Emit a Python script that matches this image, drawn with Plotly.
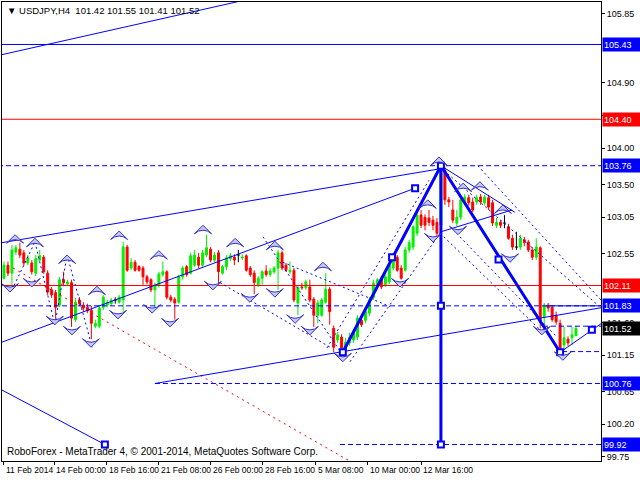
import plotly.graph_objects as go

# ---------------- data (USDJPY H4) ----------------
bar_index = list(range(145))
open_ = [102.21,102.39,102.28,102.57,102.61,102.56,102.42,102.42,102.28,102.46,
         102.50,102.28,102.05,102.01,101.84,102.19,102.13,102.15,101.64,101.91,
         101.84,101.81,101.77,101.55,101.55,101.81,101.84,101.86,101.91,101.88,
         101.91,102.64,102.35,102.43,102.37,102.35,102.23,102.19,102.05,102.12,
         102.26,102.30,101.95,101.92,101.88,102.23,102.37,102.28,102.39,102.50,
         102.39,102.53,102.61,102.46,102.56,102.28,102.37,102.48,102.50,102.53,
         102.49,102.52,102.35,102.28,102.12,102.21,102.31,102.26,102.30,102.35,
         102.56,102.39,102.30,102.32,101.87,102.09,102.08,102.09,101.92,101.70,
         101.70,101.88,102.06,101.52,101.36,101.40,101.22,101.32,101.36,101.40,
         101.63,101.63,101.73,101.94,102.12,102.21,102.12,102.16,102.35,102.50,
         102.35,102.32,102.60,102.64,102.83,103.08,103.05,103.04,103.01,102.98,
         102.94,103.70,103.29,103.15,102.97,103.05,103.26,103.32,103.26,103.26,
         103.33,103.25,103.32,103.25,102.94,102.98,102.97,102.92,102.76,102.64,
         102.64,102.74,102.71,102.60,102.50,102.63,101.68,101.84,101.81,101.70,
         101.59,101.29,101.37,101.39,101.42]
high = [102.44,102.44,102.67,102.67,102.70,102.60,102.53,102.46,102.53,102.60,
        102.53,102.32,102.09,102.05,102.23,102.30,102.19,102.19,101.94,101.95,
        101.88,101.86,101.83,101.64,101.84,101.98,101.91,101.94,101.95,101.98,
        102.71,102.67,102.49,102.46,102.39,102.38,102.26,102.21,102.15,102.30,
        102.44,102.32,101.98,101.95,102.26,102.38,102.39,102.56,102.60,102.56,
        102.60,102.81,102.64,102.57,102.60,102.39,102.53,102.56,102.54,102.60,
        102.54,102.54,102.38,102.32,102.24,102.32,102.39,102.35,102.38,102.60,
        102.59,102.42,102.44,102.35,102.12,102.15,102.19,102.19,101.95,101.91,
        101.94,102.28,102.09,101.56,101.47,101.44,101.39,101.46,101.50,101.70,
        101.68,101.79,101.95,102.19,102.21,102.24,102.26,102.44,102.53,102.53,
        102.39,102.64,102.74,102.94,103.12,103.15,103.09,103.15,103.07,103.04,
        103.77,103.74,103.33,103.29,103.15,103.33,103.37,103.36,103.32,103.36,
        103.37,103.36,103.36,103.29,103.04,103.01,103.08,102.96,102.81,102.85,
        102.81,102.78,102.74,102.64,102.76,102.65,101.87,101.87,101.84,101.75,
        101.64,101.54,101.41,101.54,101.55]
low = [102.19,102.24,102.12,102.53,102.49,102.38,102.39,102.26,102.24,102.44,
       102.27,101.98,101.94,101.66,101.81,102.10,102.10,101.54,101.61,101.83,
       101.75,101.73,101.37,101.52,101.52,101.77,101.81,101.83,101.86,101.86,
       101.75,102.30,102.32,102.30,102.30,102.12,102.13,102.02,101.81,102.08,
       102.23,101.92,101.88,101.64,101.86,102.19,102.23,102.26,102.37,102.35,
       102.37,102.50,102.43,102.43,102.14,102.26,102.32,102.45,102.39,102.43,
       102.46,102.30,102.23,101.99,102.09,102.12,102.23,102.23,102.27,102.05,
       102.32,102.30,102.27,101.88,101.70,102.05,102.05,101.88,101.54,101.59,
       101.68,101.86,101.57,101.19,101.32,101.19,101.15,101.28,101.32,101.36,
       101.54,101.59,101.69,101.91,102.09,102.06,102.09,102.13,102.32,102.30,
       102.19,102.30,102.56,102.60,102.79,102.90,102.87,102.93,102.87,102.79,
       102.83,103.22,103.19,102.97,102.93,103.01,103.22,103.21,103.12,103.22,
       103.22,103.21,103.15,102.93,102.90,102.90,102.90,102.74,102.60,102.60,
       102.60,102.65,102.57,102.46,102.46,101.52,101.55,101.75,101.61,101.57,
       101.15,101.22,101.28,101.29,101.41]
close = [102.39,102.28,102.60,102.63,102.53,102.42,102.49,102.30,102.48,102.52,
         102.30,102.02,101.98,101.81,102.19,102.15,102.16,101.66,101.88,101.86,
         101.80,101.76,101.59,101.59,101.80,101.95,101.88,101.91,101.91,101.95,
         102.64,102.32,102.43,102.32,102.32,102.23,102.16,102.05,102.12,102.27,
         102.30,101.95,101.91,101.87,102.23,102.35,102.26,102.52,102.53,102.39,
         102.56,102.63,102.46,102.53,102.30,102.37,102.49,102.52,102.46,102.53,
         102.50,102.32,102.26,102.15,102.21,102.30,102.26,102.31,102.35,102.56,
         102.35,102.32,102.32,101.91,102.08,102.08,102.16,101.91,101.70,101.87,
         101.91,102.06,101.75,101.26,101.43,101.25,101.33,101.40,101.46,101.66,
         101.57,101.75,101.91,102.14,102.19,102.09,102.23,102.39,102.49,102.32,
         102.21,102.60,102.70,102.92,103.08,102.94,102.94,102.98,102.94,102.83,
         103.70,103.29,103.26,103.01,103.05,103.29,103.33,103.25,103.15,103.32,
         103.26,103.33,103.19,102.97,102.98,102.94,102.97,102.76,102.64,102.64,
         102.76,102.70,102.60,102.50,102.64,101.61,101.84,101.80,101.64,101.61,
         101.22,101.39,101.32,101.43,101.52]

time_labels = ["11 Feb 2014", "14 Feb 00:00", "18 Feb 16:00", "21 Feb 08:00",
               "26 Feb 00:00", "28 Feb 16:00", "5 Mar 08:00", "10 Mar 00:00",
               "12 Mar 16:00"]
time_label_bars = [0, 12.6, 25.9, 39, 52.1, 65.2, 78.5, 91.6, 105]
price_ticks = [105.85, 104.90, 104.45, 104.00, 103.50, 103.05,
               102.55, 101.60, 101.15, 100.65, 100.20, 99.75]

# horizontal levels
levels_blue_solid = [105.43]
levels_red_solid = [104.40, 102.11]
levels_blue_dashed = [103.76, 101.83]
partial_dashed_start = [38, 84.6, 135.7, 140.5]
partial_dashed_price = [100.76, 99.92, 101.55, 101.20]

# trend lines (bar, price) -> (bar, price)
trend_b0 = [-0.5, -0.5, -0.5, 38, -0.5, 110, 110, 140, 136.5]
trend_p0 = [105.29, 102.70, 101.33, 100.76, 100.67, 102.85, 103.76, 101.19, 101.83]
trend_b1 = [58.9, 110, 103.5, 151, 25.4, 127.9, 128.6, 151, 151]
trend_p1 = [106.02, 103.72, 103.45, 101.81, 99.92, 103.15, 103.12, 101.61, 101.83]

# wave (thick) lines
wave_bars = [85.3, 110, 140]
wave_prices = [101.19, 103.76, 101.19]
vertical_bar = 110
vertical_prices = [103.76, 99.92]
square_bars = [85.3, 97.7, 110, 124.5, 140, 110, 110, 103.5, 25.4, 148]
square_prices = [101.19, 102.50, 103.76, 102.47, 101.19, 101.83, 99.92, 103.45, 99.92, 101.50]

# dotted channel lines
dot_b0 = [65.2, 54.4, 70.2, 81.3, 87.1, 109.8, 119.3, 109.8, 114.8, 2.0, 7.8, 15.9, 12.8]
dot_p0 = [102.78, 102.15, 102.43, 101.25, 101.06, 103.74, 103.76, 102.83, 102.78, 102.05, 102.71, 102.53, 101.57]
dot_b1 = [85.3, 82.1, 97.2, 107.0, 109.8, 149.5, 150.3, 135.7, 139.2, 7.8, 12.8, 22.2, 15.9]
dot_p1 = [101.15, 101.26, 101.82, 103.56, 102.83, 101.84, 101.91, 101.46, 101.40, 102.71, 101.57, 101.26, 102.53]

red_dot_bars = [2.3, 87.1]
red_dot_prices = [102.35, 99.69]

# fractals
up_bars = [2.8, 7.8, 15.9, 23.4, 29, 39, 50.1, 58.2, 68.2, 80.3, 106.7, 109.5, 115.6, 119.8, 125.6]
up_prices = [102.81, 102.76, 102.53, 102.10, 102.86, 102.59, 102.94, 102.76, 102.72, 102.43,
             103.29, 103.88, 103.52, 103.54, 103.22]
down_bars = [1.5, 7.0, 12.8, 17.1, 21.9, 28.7, 37.3, 41.8, 52.6, 61.9, 68.2, 73.3, 77,
             85.3, 99.7, 108, 114.3, 127.4, 135.4, 140.7]
down_prices = [102.02, 102.09, 101.57, 101.43, 101.26, 101.65, 101.73, 101.54, 102.05, 101.88,
               101.95, 101.59, 101.43, 101.06, 102.09, 102.71, 102.81, 102.43, 101.43, 101.08]

box_prices = [105.43, 104.40, 103.76, 102.11, 101.83, 101.52, 100.76, 99.92]
box_kinds = ["blue", "red", "blue", "red", "blue", "black", "blue", "blue"]

# ---------------- figure ----------------
BLUE = "#0000ff"
RED = "#ff0000"
GREEN = "#00f000"
X0, X1 = -0.5, 150.3
FONT = "Liberation Sans, Arial, sans-serif"

fig = go.Figure()

cb, co, ch, cl, cc = [], [], [], [], []
db, dh, dl, dc = [], [], [], []
for b, o, h, l, c in zip(bar_index, open_, high, low, close):
    if o == c:
        db.append(b); dh.append(h); dl.append(l); dc.append(c)
    else:
        cb.append(b); co.append(o); ch.append(h); cl.append(l); cc.append(c)

fig.add_trace(go.Candlestick(
    x=cb, open=co, high=ch, low=cl, close=cc,
    increasing=dict(line=dict(color=GREEN, width=1), fillcolor=GREEN),
    decreasing=dict(line=dict(color=RED, width=1), fillcolor=RED),
    whiskerwidth=0, showlegend=False, hoverinfo="skip"))

dx, dy = [], []
for b, h, l, c in zip(db, dh, dl, dc):
    dx += [b, b, None, b - 0.4, b + 0.4, None]
    dy += [l, h, None, c, c, None]
fig.add_trace(go.Scatter(x=dx, y=dy, mode="lines", line=dict(color="black", width=1),
                         showlegend=False, hoverinfo="skip"))


def seg_trace(xs0, ys0, xs1, ys1, color, width, dash=None):
    x, y = [], []
    for a, b, c, d in zip(xs0, ys0, xs1, ys1):
        x += [a, c, None]
        y += [b, d, None]
    fig.add_trace(go.Scatter(x=x, y=y, mode="lines",
                             line=dict(color=color, width=width, dash=dash),
                             showlegend=False, hoverinfo="skip", cliponaxis=True))


seg_trace([X0 - 1] * len(levels_blue_solid), levels_blue_solid,
          [X1 + 1] * len(levels_blue_solid), levels_blue_solid, BLUE, 1)
seg_trace([X0 - 1] * len(levels_red_solid), levels_red_solid,
          [X1 + 1] * len(levels_red_solid), levels_red_solid, RED, 1)
seg_trace([X0 - 1] * len(levels_blue_dashed), levels_blue_dashed,
          [X1 + 1] * len(levels_blue_dashed), levels_blue_dashed, BLUE, 1, "5px,3px")
seg_trace(partial_dashed_start, partial_dashed_price,
          [X1 + 1] * len(partial_dashed_start), partial_dashed_price, BLUE, 1, "5px,3px")

seg_trace(dot_b0, dot_p0, dot_b1, dot_p1, BLUE, 1, "2px,3px")
seg_trace(red_dot_bars[:1], red_dot_prices[:1], red_dot_bars[1:], red_dot_prices[1:], RED, 1, "2px,4px")

seg_trace(trend_b0, trend_p0, trend_b1, trend_p1, BLUE, 1)

fig.add_trace(go.Scatter(x=wave_bars, y=wave_prices, mode="lines",
                         line=dict(color=BLUE, width=3), showlegend=False, hoverinfo="skip"))
fig.add_trace(go.Scatter(x=[vertical_bar, vertical_bar], y=vertical_prices, mode="lines",
                         line=dict(color=BLUE, width=3), showlegend=False, hoverinfo="skip"))
fig.add_trace(go.Scatter(x=square_bars, y=square_prices, mode="markers",
                         marker=dict(symbol="square", size=6, color="white",
                                     line=dict(color=BLUE, width=2)),
                         showlegend=False, hoverinfo="skip"))

fig.add_trace(go.Scatter(x=up_bars, y=up_prices, mode="markers",
                         marker=dict(symbol="arrow-wide", size=12, color="#c8c8f4",
                                     line=dict(color="#3030c8", width=1)),
                         showlegend=False, hoverinfo="skip"))
fig.add_trace(go.Scatter(x=down_bars, y=down_prices, mode="markers",
                         marker=dict(symbol="arrow-wide", angle=180, size=12, color="#c8c8f4",
                                     line=dict(color="#3030c8", width=1)),
                         showlegend=False, hoverinfo="skip"))

annotations = []
box_bg = {"blue": BLUE, "red": RED, "black": "black"}
for p, k in zip(box_prices, box_kinds):
    annotations.append(dict(
        xref="paper", x=1, yref="y", y=p, xanchor="left", yanchor="middle",
        xshift=1, text=f"{p:.2f}", showarrow=False, bgcolor=box_bg[k],
        font=dict(family=FONT, size=9, color="white"), width=36, height=11,
        align="left", borderpad=1))

for b, t in zip(time_label_bars, time_labels):
    annotations.append(dict(
        xref="x", x=b, yref="paper", y=0, xanchor="left", yanchor="top",
        xshift=0, yshift=-2, text=t, showarrow=False,
        font=dict(family=FONT, size=8.5, color="black")))

annotations.append(dict(
    xref="paper", x=0, yref="paper", y=1, xanchor="left", yanchor="top",
    xshift=3, yshift=-1, showarrow=False,
    text="\u25BC\u00a0USDJPY,H4\u00a0\u00a0101.42 101.55 101.41 101.52",
    font=dict(family=FONT, size=9.5, color="black")))
annotations.append(dict(
    xref="paper", x=0, yref="paper", y=0, xanchor="left", yanchor="bottom",
    xshift=3, yshift=2, showarrow=False,
    text="RoboForex - MetaTrader 4, \u00a9 2001-2014, MetaQuotes Software Corp.",
    font=dict(family=FONT, size=10, color="black")))

fig.update_layout(
    width=640, height=480,
    margin=dict(l=2, r=39, t=2, b=19),
    paper_bgcolor="white", plot_bgcolor="white",
    showlegend=False,
    annotations=annotations,
    xaxis=dict(range=[X0, X1], rangeslider=dict(visible=False), showgrid=False,
               zeroline=False, showline=True, linecolor="black", linewidth=1, mirror=True,
               tickvals=time_label_bars, ticks="outside", ticklen=3, tickcolor="black",
               showticklabels=False),
    yaxis=dict(range=[99.693, 106.015], side="right", showgrid=False, zeroline=False,
               showline=True, linecolor="black", linewidth=1, mirror=True,
               tickvals=price_ticks, ticktext=[f"{v:.2f}" for v in price_ticks],
               ticks="outside", ticklen=3, tickcolor="black",
               tickfont=dict(family=FONT, size=9, color="black")),
    font=dict(family=FONT),
)

fig.write_html("out.html", config={"displayModeBar": False},
               post_script="document.body.style.margin='0px';")
